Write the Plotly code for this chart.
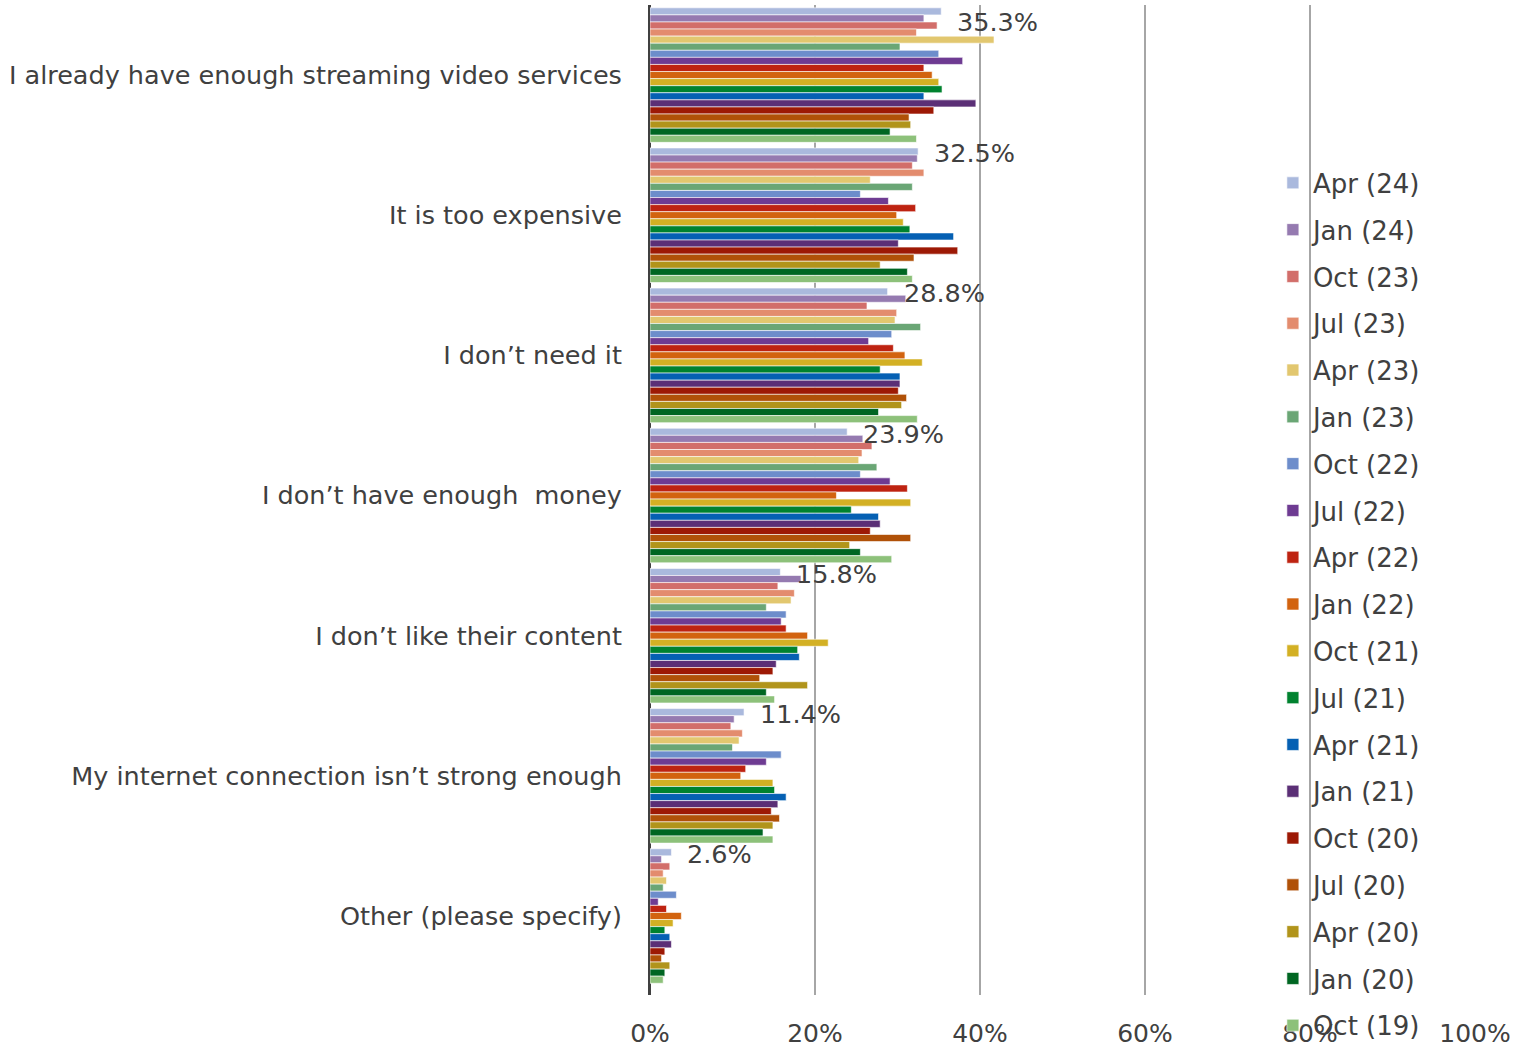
import plotly.graph_objects as go

categories = [
    "I already have enough streaming video services",
    "It is too expensive",
    "I don’t need it",
    "I don’t have enough  money",
    "I don’t like their content",
    "My internet connection isn’t strong enough",
    "Other (please specify)",
]

series_names = ["Apr (24)", "Jan (24)", "Oct (23)", "Jul (23)", "Apr (23)", "Jan (23)",
                "Oct (22)", "Jul (22)", "Apr (22)", "Jan (22)", "Oct (21)", "Jul (21)",
                "Apr (21)", "Jan (21)", "Oct (20)", "Jul (20)", "Apr (20)", "Jan (20)",
                "Oct (19)"]

colors = ["#AAB9DD", "#957AB0", "#D26E6A", "#E38C6E", "#E2C76F", "#6AA675",
          "#6D8DCB", "#6E3B92", "#BE2311", "#D2630F", "#D3B024", "#00822F",
          "#0560B3", "#5B2F76", "#9D1905", "#B05108", "#B1941B", "#006622",
          "#8DC17A"]

# values per series, in category order
apr24 = [35.3, 32.5, 28.8, 23.9, 15.8, 11.4, 2.6]
jan24 = [33.2, 32.4, 31.0, 25.8, 18.3, 10.2, 1.4]
oct23 = [34.8, 31.8, 26.3, 26.9, 15.5, 9.8, 2.4]
jul23 = [32.3, 33.2, 29.9, 25.7, 17.5, 11.2, 1.6]
apr23 = [41.7, 26.7, 29.7, 25.3, 17.1, 10.8, 2.0]
jan23 = [30.3, 31.8, 32.8, 27.5, 14.1, 10.0, 1.6]
oct22 = [35.0, 25.5, 29.3, 25.5, 16.5, 15.9, 3.2]
jul22 = [37.9, 28.9, 26.5, 29.1, 15.9, 14.1, 1.0]
apr22 = [33.2, 32.2, 29.5, 31.2, 16.5, 11.6, 2.0]
jan22 = [34.2, 29.9, 30.9, 22.6, 19.1, 11.0, 3.8]
oct21 = [35.0, 30.7, 33.0, 31.6, 21.6, 14.9, 2.8]
jul21 = [35.4, 31.5, 27.9, 24.4, 17.9, 15.1, 1.8]
apr21 = [33.2, 36.8, 30.3, 27.7, 18.1, 16.5, 2.4]
jan21 = [39.5, 30.1, 30.3, 27.9, 15.3, 15.5, 2.6]
oct20 = [34.4, 37.3, 30.1, 26.7, 14.9, 14.7, 1.8]
jul20 = [31.4, 32.0, 31.1, 31.6, 13.3, 15.7, 1.4]
apr20 = [31.6, 27.9, 30.5, 24.2, 19.1, 14.9, 2.4]
jan20 = [29.1, 31.2, 27.7, 25.5, 14.1, 13.7, 1.8]
oct19 = [32.3, 31.8, 32.4, 29.3, 15.1, 14.9, 1.6]

series_values = [apr24, jan24, oct23, jul23, apr23, jan23, oct22, jul22, apr22, jan22,
                 oct21, jul21, apr21, jan21, oct20, jul20, apr20, jan20, oct19]

x_tickvals = [0, 20, 40, 60, 80, 100]
x_ticktext = ["0%", "20%", "40%", "60%", "80%", "100%"]

FONT = "DejaVu Sans"
TXT = "#404040"

fig = go.Figure()
for name, vals, col in zip(series_names, series_values, colors):
    fig.add_trace(go.Bar(
        y=categories, x=vals, name=name, orientation="h",
        marker=dict(color=col, line=dict(color="white", width=0.6)),
        legendgroup=name,
    ))

# data labels for the most recent wave
for i, (cat, v) in enumerate(zip(categories, apr24)):
    fig.add_annotation(
        x=v, y=cat, xref="x", yref="y", text=f"{v:.1f}%",
        showarrow=False, xanchor="left", yanchor="middle",
        xshift=14, yshift=53 if i == 0 else 62,
        font=dict(family=FONT, size=25.5, color=TXT),
    )

fig.update_layout(
    width=1513, height=1050,
    margin=dict(l=650, r=38, t=5, b=55, autoexpand=False),
    paper_bgcolor="white", plot_bgcolor="white",
    barmode="group", bargap=0.04, bargroupgap=0,
    font=dict(family=FONT, size=25, color=TXT),
    showlegend=True,
    legend=dict(
        x=0.755, y=0.844, xanchor="left", yanchor="top",
        bgcolor="rgba(0,0,0,0)", font=dict(family=FONT, size=26, color=TXT),
        tracegroupgap=10, itemwidth=30, maxheight=1050,
    ),
)
fig.update_xaxes(
    range=[0, 100], tickvals=x_tickvals, ticktext=x_ticktext,
    showgrid=True, gridcolor="#A6A6A6", gridwidth=2,
    zeroline=True, zerolinecolor="#404040", zerolinewidth=2,
    ticks="outside", ticklen=0, ticklabelstandoff=16, automargin=False,
    tickfont=dict(family=FONT, size=25, color=TXT), layer="above traces",
)
fig.update_yaxes(
    autorange="reversed", showgrid=False,
    showline=True, linecolor="#404040", linewidth=2,
    ticks="outside", ticklen=0, ticklabelstandoff=21, automargin=False,
    tickfont=dict(family=FONT, size=25.5, color=TXT), layer="above traces",
)

fig.write_html("out.html", config={"displayModeBar": False},
               post_script="document.body.style.margin='0';")
